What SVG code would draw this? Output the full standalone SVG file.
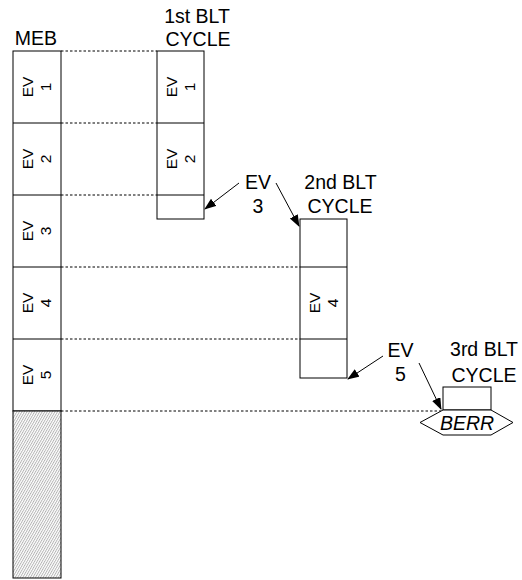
<svg xmlns="http://www.w3.org/2000/svg" width="522" height="580" viewBox="0 0 522 580">
<style>
.box{fill:#fff;stroke:#000;stroke-width:1}
.div{stroke:#000;stroke-width:1}
.dash{stroke:#000;stroke-width:1;stroke-dasharray:2.5,2;fill:none}
.arr{stroke:#000;stroke-width:1;fill:none;marker-end:url(#ah)}
.lbl{font-family:"Liberation Sans",Arial,sans-serif;font-size:19.5px;fill:#000;text-anchor:middle}
.cell{font-family:"Liberation Sans",Arial,sans-serif;font-size:15.5px;fill:#000;text-anchor:middle}
</style>
<defs>
<marker id="ah" markerWidth="12" markerHeight="10" refX="11" refY="4.5" orient="auto" markerUnits="userSpaceOnUse">
<path d="M0,0 L12,4.5 L0,9 Z" fill="#000"/>
</marker>
<pattern id="hatch" width="2.2" height="2.2" patternUnits="userSpaceOnUse" patternTransform="rotate(30)">
<rect width="2.2" height="2.2" fill="#fff"/>
<line x1="0.5" y1="0" x2="0.5" y2="2.2" stroke="#a8a8a8" stroke-width="0.8"/>
</pattern>
</defs>
<rect width="522" height="580" fill="#fff"/>

<g id="connectors">
<line class="dash" x1="61" y1="51" x2="157" y2="51"/>
<line class="dash" x1="61" y1="123" x2="157" y2="123"/>
<line class="dash" x1="61" y1="195" x2="157" y2="195"/>
<line class="dash" x1="61" y1="267" x2="300" y2="267"/>
<line class="dash" x1="61" y1="339" x2="300" y2="339"/>
<line class="dash" x1="61" y1="411" x2="441" y2="411"/>
<line class="arr" x1="239" y1="183" x2="205" y2="209"/>
<line class="arr" x1="276" y1="183" x2="299" y2="226"/>
<line class="arr" x1="383" y1="356" x2="348" y2="379"/>
<line class="arr" x1="419" y1="363" x2="441" y2="409"/>
</g>

<g id="meb">
<text class="lbl" x="36" y="45">MEB</text>
<rect class="box" x="13" y="51" width="48" height="360"/>
<rect x="13" y="411" width="48" height="167" fill="url(#hatch)" stroke="#000" stroke-width="1"/>
<line class="div" x1="13" y1="123" x2="61" y2="123"/>
<line class="div" x1="13" y1="195" x2="61" y2="195"/>
<line class="div" x1="13" y1="267" x2="61" y2="267"/>
<line class="div" x1="13" y1="339" x2="61" y2="339"/>
<text class="cell" transform="translate(33,87) rotate(-90)">EV</text>
<text class="cell" transform="translate(51,87) rotate(-90)">1</text>
<text class="cell" transform="translate(33,159) rotate(-90)">EV</text>
<text class="cell" transform="translate(51,159) rotate(-90)">2</text>
<text class="cell" transform="translate(33,231) rotate(-90)">EV</text>
<text class="cell" transform="translate(51,231) rotate(-90)">3</text>
<text class="cell" transform="translate(33,303) rotate(-90)">EV</text>
<text class="cell" transform="translate(51,303) rotate(-90)">4</text>
<text class="cell" transform="translate(33,375) rotate(-90)">EV</text>
<text class="cell" transform="translate(51,375) rotate(-90)">5</text>
</g>

<g id="blt1">
<text class="lbl" x="197" y="23">1st BLT</text>
<text class="lbl" x="198" y="46">CYCLE</text>
<rect class="box" x="157" y="51" width="47" height="168"/>
<line class="div" x1="157" y1="123" x2="204" y2="123"/>
<line class="div" x1="157" y1="195" x2="204" y2="195"/>
<text class="cell" transform="translate(176.5,87) rotate(-90)">EV</text>
<text class="cell" transform="translate(194.5,87) rotate(-90)">1</text>
<text class="cell" transform="translate(176.5,159) rotate(-90)">EV</text>
<text class="cell" transform="translate(194.5,159) rotate(-90)">2</text>
</g>

<g id="ev3label">
<text class="lbl" x="258" y="188.5">EV</text>
<text class="lbl" x="258" y="212.5">3</text>
</g>

<g id="blt2">
<text class="lbl" x="340.5" y="189">2nd BLT</text>
<text class="lbl" x="340" y="213">CYCLE</text>
<rect class="box" x="300" y="219" width="47" height="159"/>
<line class="div" x1="300" y1="267" x2="347" y2="267"/>
<line class="div" x1="300" y1="339" x2="347" y2="339"/>
<text class="cell" transform="translate(319.5,303) rotate(-90)">EV</text>
<text class="cell" transform="translate(337.5,303) rotate(-90)">4</text>
</g>

<g id="ev5label">
<text class="lbl" x="400.5" y="357">EV</text>
<text class="lbl" x="400.5" y="381">5</text>
</g>

<g id="blt3">
<text class="lbl" x="484" y="356">3rd BLT</text>
<text class="lbl" x="484" y="381.5">CYCLE</text>
<rect class="box" x="443" y="387" width="48" height="23"/>
</g>

<g id="berr">
<polygon points="420,422.5 443,410 491,410 513,422.5 491,435 443,435" fill="#fff" stroke="#000" stroke-width="1"/>
<text class="lbl" x="467" y="430" font-style="italic">BERR</text>
</g>
</svg>
